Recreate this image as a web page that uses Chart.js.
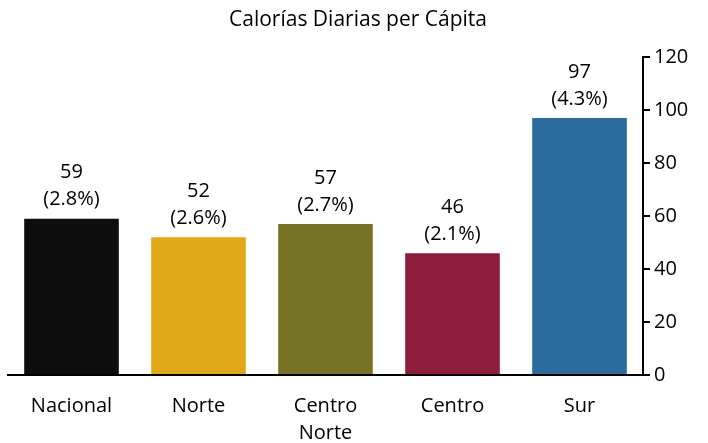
<!DOCTYPE html>
<html>
<head>
<meta charset="utf-8">
<title>Calorías Diarias per Cápita</title>
<script src="https://cdn.jsdelivr.net/npm/chart.js"></script>
<style>
  html, body { margin: 0; padding: 0; background: #fff; }
  #wrap { width: 708px; height: 443px; }
</style>
</head>
<body>
<div id="wrap"><canvas id="caloriasChart" width="708" height="443"></canvas></div>
<script>
// data
const regiones = [['Nacional'], ['Norte'], ['Centro', 'Norte'], ['Centro'], ['Sur']];
const calorias = [59, 52, 57, 46, 97];
const porcentajes = ['2.8%', '2.6%', '2.7%', '2.1%', '4.3%'];
const colores = ['#0d0d0d', '#e0a717', '#767327', '#8c1d3b', '#296b9b'];
const ticksY = [0, 20, 40, 60, 80, 100, 120];

const fuente = "'Open Sans', Lato, sans-serif";

// two-line labels above each bar: value and (share)
const etiquetas = {
    id: 'etiquetas',
    afterDatasetsDraw(chart) {
        const ctx = chart.ctx;
        const meta = chart.getDatasetMeta(0);
        ctx.save();
        ctx.fillStyle = '#000';
        ctx.font = '20px ' + fuente;
        ctx.textAlign = 'center';
        ctx.textBaseline = 'middle';
        meta.data.forEach(function(bar, i) {
            ctx.fillText('(' + porcentajes[i] + ')', bar.x, bar.y - 19);
            ctx.fillText(String(calorias[i]), bar.x, bar.y - 46);
        });
        ctx.restore();
    }
};

const ctx = document.getElementById('caloriasChart').getContext('2d');
const chart = new Chart(ctx, {
    type: 'bar',
    data: {
        labels: regiones,
        datasets: [{
            data: calorias,
            backgroundColor: colores,
            borderWidth: 0,
            categoryPercentage: 1,
            barPercentage: 0.745
        }]
    },
    options: {
        responsive: false,
        animation: false,
        layout: { padding: { left: 8, right: 0, top: 0, bottom: 0 } },
        plugins: {
            legend: { display: false },
            tooltip: { enabled: false },
            title: {
                display: true,
                text: 'Calorías Diarias per Cápita',
                color: '#000',
                font: { family: fuente, size: 21, weight: 'normal', lineHeight: 1.2 },
                padding: { top: 7, bottom: 25 }
            }
        },
        scales: {
            x: {
                grid: { display: false },
                border: { display: true, color: '#000', width: 2 },
                ticks: {
                    color: '#000',
                    font: { family: fuente, size: 20, lineHeight: 1.35 },
                    padding: 10,
                    maxRotation: 0
                },
                afterFit: function(scale) { scale.height = 68; }
            },
            y: {
                position: 'right',
                min: 0,
                max: 120,
                afterBuildTicks: function(scale) {
                    scale.ticks = ticksY.map(v => ({ value: v }));
                },
                grid: {
                    drawOnChartArea: false,
                    drawTicks: true,
                    tickLength: 7,
                    color: '#000',
                    lineWidth: 2
                },
                border: { display: true, color: '#000', width: 2 },
                ticks: {
                    color: '#000',
                    font: { family: fuente, size: 20 },
                    padding: 4
                },
                afterFit: function(scale) { scale.width = 65; }
            }
        }
    },
    plugins: [etiquetas]
});
</script>
</body>
</html>
